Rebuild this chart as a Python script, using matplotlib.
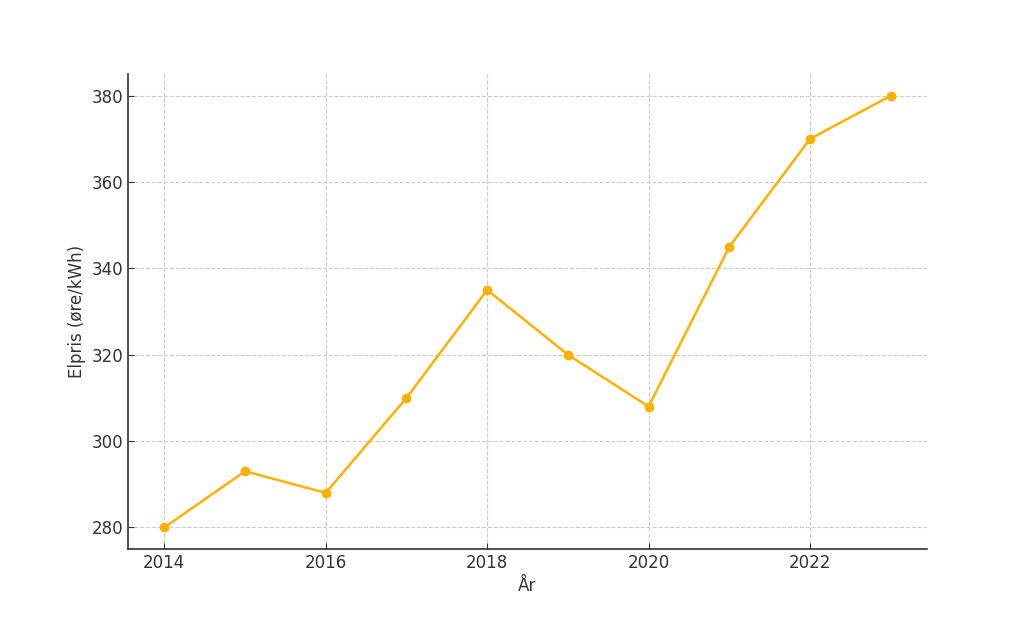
import matplotlib
matplotlib.use("Agg")
import matplotlib.pyplot as plt

# Elpris per år
years = [2014, 2015, 2016, 2017, 2018, 2019, 2020, 2021, 2022, 2023]
prices = [280, 293, 288, 310, 335, 320, 308, 345, 370, 380]

plt.rcParams["font.family"] = "DejaVu Sans"
plt.rcParams["font.size"] = 12
text_color = "#333333"

fig, ax = plt.subplots(figsize=(10.3, 6.18), dpi=100)
fig.subplots_adjust(left=0.1243, right=0.9, top=0.88, bottom=0.1117)

ax.plot(years, prices, marker="o", color="#FFB000", linewidth=1.8, markersize=6)

ax.set_xlabel("År", color=text_color)
ax.set_ylabel("Elpris (øre/kWh)", color=text_color)
ax.set_xticks([2014, 2016, 2018, 2020, 2022])
ax.set_yticks([280, 300, 320, 340, 360, 380])
ax.grid(True, linestyle="--", color="#cccccc", linewidth=0.8)
ax.tick_params(direction="in", length=4, colors=text_color, labelcolor=text_color)

for side in ["top", "right"]:
    ax.spines[side].set_visible(False)
for side in ["left", "bottom"]:
    ax.spines[side].set_color(text_color)
    ax.spines[side].set_linewidth(1.2)

fig.savefig("out.png", dpi=100)
